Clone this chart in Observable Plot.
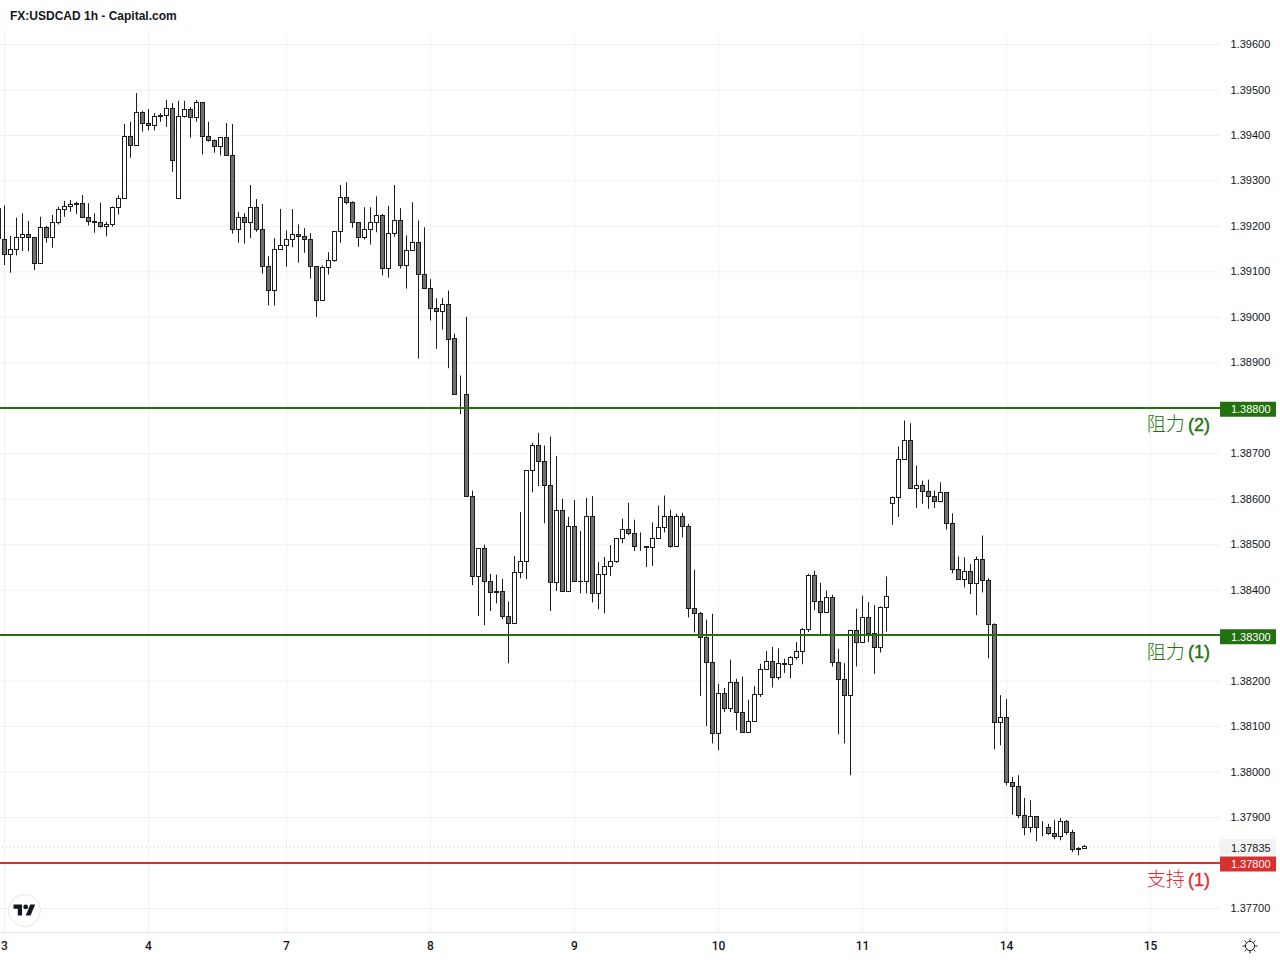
<!DOCTYPE html>
<html><head><meta charset="utf-8">
<script src="https://cdn.jsdelivr.net/npm/d3@7"></script>
<script src="https://cdn.jsdelivr.net/npm/@observablehq/plot@0.6"></script>
<style>
html,body{margin:0;padding:0;background:#fff;}
#wrap{position:relative;width:1280px;height:960px;overflow:hidden;}
#title{height:31px;box-sizing:border-box;padding:9px 0 0 10px;font:bold 12px/15px "Liberation Sans",Arial,sans-serif;color:#131722;}
#logo{position:absolute;left:8px;top:894px;}
#gear{position:absolute;left:1241px;top:937px;}
</style></head><body>
<div id="wrap">
<div id="title">FX:USDCAD 1h - Capital.com</div>
<div id="chart"></div>
<svg id="logo" width="33" height="33" viewBox="0 0 33 33"><circle cx="16.5" cy="16.5" r="16" fill="#fff" stroke="#e6e6e6"/><g transform="translate(5.5,8) scale(0.61)"><path fill="#131722" d="M14 22H7V11H0V4h14v18zM28 22h-8l7.5-18h8L28 22z"/><circle cx="20" cy="8" r="4" fill="#131722"/></g></svg>
<svg id="gear" width="18" height="18" viewBox="0 0 18 18" fill="none" stroke="#131722" stroke-width="1"><circle cx="9" cy="9" r="4.6"/><path d="M9 1.5v2.4M9 14.1v2.4M1.5 9h2.4M14.1 9h2.4M3.7 3.7l1.7 1.7M12.6 12.6l1.7 1.7M3.7 14.3l1.7-1.7M12.6 5.4l1.7-1.7"/></svg>
</div>
<script>
const opens=[1.39171,1.39138,1.39149,1.39175,1.39182,1.39175,1.39118,1.39197,1.39175,1.39208,
1.39237,1.39243,1.39250,1.39250,1.39219,1.39210,1.39208,1.39199,1.39204,1.39241,
1.39261,1.39397,1.39377,1.39450,1.39426,1.39421,1.39443,1.39443,1.39459,1.39261,
1.39441,1.39456,1.39439,1.39472,1.39397,1.39388,1.39375,1.39395,1.39355,1.39193,
1.39219,1.39208,1.39241,1.39192,1.39111,1.39058,1.39148,1.39157,1.39170,1.39181,
1.39177,1.39170,1.39111,1.39036,1.39109,1.39124,1.39188,1.39263,1.39252,1.39208,
1.39175,1.39192,1.39208,1.39223,1.39107,1.39184,1.39212,1.39113,1.39146,1.39164,
1.39094,1.39063,1.39019,1.39012,1.39028,1.38952,1.38830,1.38830,1.38604,1.38428,
1.38490,1.38417,1.38395,1.38395,1.38342,1.38325,1.38437,1.38463,1.38661,1.38716,
1.38681,1.38630,1.38415,1.38575,1.38397,1.38540,1.38419,1.38417,1.38562,1.38391,
1.38433,1.38450,1.38463,1.38512,1.38532,1.38523,1.38494,1.38494,1.38492,1.38512,
1.38536,1.38560,1.38494,1.38562,1.38540,1.38358,1.38347,1.38294,1.38239,1.38083,
1.38171,1.38138,1.38195,1.38131,1.38087,1.38111,1.38169,1.38224,1.38241,1.38206,
1.38237,1.38235,1.38250,1.38263,1.38312,1.38431,1.38373,1.38349,1.38382,1.38239,
1.38202,1.38167,1.38310,1.38283,1.38338,1.38303,1.38273,1.38361,1.38590,1.38603,
1.38686,1.38728,1.38623,1.38629,1.38616,1.38605,1.38594,1.38614,1.38546,1.38445,
1.38423,1.38440,1.38414,1.38467,1.38420,1.38324,1.38108,1.38120,1.37975,1.37968,
1.37904,1.37876,1.37902,1.37878,1.37878,1.37863,1.37858,1.37891,1.37865,1.37830,
1.37830];
const closes=[1.39138,1.39149,1.39175,1.39182,1.39175,1.39118,1.39197,1.39175,1.39208,1.39237,
1.39243,1.39248,1.39248,1.39219,1.39210,1.39208,1.39199,1.39204,1.39241,1.39261,
1.39397,1.39377,1.39450,1.39426,1.39421,1.39441,1.39441,1.39459,1.39344,1.39441,
1.39456,1.39439,1.39472,1.39397,1.39388,1.39375,1.39395,1.39355,1.39193,1.39219,
1.39208,1.39241,1.39192,1.39111,1.39058,1.39148,1.39157,1.39170,1.39181,1.39177,
1.39170,1.39111,1.39036,1.39109,1.39124,1.39188,1.39263,1.39252,1.39208,1.39175,
1.39192,1.39208,1.39223,1.39107,1.39184,1.39212,1.39113,1.39146,1.39164,1.39094,
1.39063,1.39019,1.39012,1.39028,1.38951,1.38830,1.38830,1.38604,1.38428,1.38490,
1.38417,1.38393,1.38393,1.38342,1.38325,1.38437,1.38463,1.38661,1.38716,1.38681,
1.38630,1.38415,1.38575,1.38397,1.38540,1.38419,1.38417,1.38562,1.38391,1.38433,
1.38450,1.38463,1.38512,1.38532,1.38523,1.38494,1.38494,1.38492,1.38512,1.38536,
1.38560,1.38494,1.38562,1.38540,1.38358,1.38347,1.38294,1.38239,1.38083,1.38171,
1.38138,1.38195,1.38131,1.38087,1.38111,1.38169,1.38224,1.38241,1.38206,1.38237,
1.38235,1.38250,1.38263,1.38312,1.38431,1.38373,1.38349,1.38382,1.38239,1.38202,
1.38167,1.38310,1.38283,1.38338,1.38303,1.38273,1.38361,1.38385,1.38603,1.38686,
1.38728,1.38623,1.38629,1.38616,1.38605,1.38594,1.38614,1.38546,1.38445,1.38423,
1.38440,1.38414,1.38467,1.38420,1.38324,1.38108,1.38120,1.37975,1.37968,1.37904,
1.37876,1.37902,1.37878,1.37878,1.37863,1.37858,1.37891,1.37865,1.37828,1.37828,
1.37835];
const highs=[1.39245,1.39178,1.39218,1.39228,1.39211,1.39175,1.39220,1.39200,1.39224,1.39242,
1.39255,1.39257,1.39253,1.39268,1.39250,1.39228,1.39251,1.39209,1.39243,1.39267,
1.39424,1.39429,1.39492,1.39453,1.39457,1.39448,1.39448,1.39477,1.39470,1.39475,
1.39475,1.39461,1.39477,1.39472,1.39429,1.39390,1.39395,1.39426,1.39424,1.39231,
1.39228,1.39290,1.39259,1.39248,1.39133,1.39173,1.39237,1.39190,1.39237,1.39203,
1.39195,1.39184,1.39111,1.39113,1.39142,1.39188,1.39290,1.39296,1.39254,1.39208,
1.39241,1.39241,1.39265,1.39226,1.39244,1.39290,1.39239,1.39179,1.39252,1.39212,
1.39197,1.39083,1.39041,1.39041,1.39058,1.38963,1.38871,1.39000,1.38618,1.38490,
1.38499,1.38435,1.38433,1.38424,1.38374,1.38474,1.38571,1.38663,1.38723,1.38745,
1.38717,1.38737,1.38694,1.38600,1.38560,1.38597,1.38529,1.38602,1.38606,1.38461,
1.38472,1.38498,1.38514,1.38556,1.38591,1.38554,1.38526,1.38494,1.38548,1.38585,
1.38607,1.38576,1.38567,1.38569,1.38545,1.38444,1.38351,1.38334,1.38347,1.38193,
1.38184,1.38246,1.38204,1.38209,1.38158,1.38188,1.38237,1.38265,1.38274,1.38271,
1.38248,1.38254,1.38285,1.38316,1.38435,1.38442,1.38415,1.38398,1.38389,1.38270,
1.38238,1.38312,1.38358,1.38387,1.38373,1.38366,1.38363,1.38429,1.38605,1.38715,
1.38772,1.38766,1.38673,1.38640,1.38642,1.38618,1.38636,1.38614,1.38568,1.38473,
1.38471,1.38456,1.38473,1.38519,1.38425,1.38326,1.38168,1.38160,1.37988,1.37992,
1.37942,1.37937,1.37902,1.37891,1.37885,1.37894,1.37898,1.37894,1.37872,1.37834,
1.37839];
const lows=[1.39114,1.39097,1.39135,1.39145,1.39144,1.39103,1.39118,1.39163,1.39152,1.39203,
1.39220,1.39231,1.39226,1.39217,1.39201,1.39185,1.39196,1.39177,1.39198,1.39225,
1.39259,1.39350,1.39377,1.39407,1.39410,1.39410,1.39429,1.39418,1.39319,1.39261,
1.39438,1.39394,1.39429,1.39357,1.39385,1.39361,1.39355,1.39355,1.39183,1.39163,
1.39161,1.39173,1.39187,1.39095,1.39025,1.39025,1.39148,1.39110,1.39153,1.39119,
1.39141,1.39084,1.39000,1.39036,1.39093,1.39121,1.39163,1.39247,1.39196,1.39154,
1.39170,1.39159,1.39186,1.39091,1.39086,1.39176,1.39106,1.39062,1.39146,1.38908,
1.39061,1.38992,1.38930,1.38972,1.38887,1.38828,1.38786,1.38604,1.38410,1.38342,
1.38322,1.38353,1.38370,1.38335,1.38238,1.38325,1.38425,1.38423,1.38614,1.38628,
1.38546,1.38353,1.38397,1.38397,1.38397,1.38419,1.38392,1.38392,1.38372,1.38357,
1.38348,1.38430,1.38459,1.38502,1.38520,1.38485,1.38485,1.38450,1.38452,1.38512,
1.38526,1.38492,1.38494,1.38515,1.38339,1.38306,1.38166,1.38100,1.38062,1.38047,
1.38131,1.38131,1.38091,1.38087,1.38087,1.38111,1.38164,1.38224,1.38185,1.38202,
1.38217,1.38205,1.38246,1.38236,1.38307,1.38355,1.38302,1.38349,1.38231,1.38082,
1.38062,1.37992,1.38231,1.38283,1.38285,1.38215,1.38262,1.38308,1.38543,1.38560,
1.38686,1.38623,1.38580,1.38589,1.38578,1.38580,1.38592,1.38532,1.38436,1.38423,
1.38405,1.38390,1.38344,1.38394,1.38249,1.38049,1.38058,1.37970,1.37905,1.37898,
1.37860,1.37866,1.37847,1.37858,1.37861,1.37851,1.37849,1.37861,1.37823,1.37816,
1.37830];
const dayBars=[0,24,47,71,95,119,143,167,191];
const dayLabels=["3","4","7","8","9","10","11","14","15"];
const priceTicks=[1.377,1.378,1.379,1.38,1.381,1.382,1.383,1.384,1.385,1.386,1.387,1.388,1.389,1.39,1.391,1.392,1.393,1.394,1.395,1.396];
const levelPrices=[1.388,1.383,1.378];
const levelNames=["阻力","阻力","支持"];
const levelNums=["(2)","(1)","(1)"];
const GREEN="#22700f", RED="#d9302f", INK="#1c1c1c", DOWN="#707070", GRID="#f1f1f3";
const levelColors=[GREEN,GREEN,RED];
const lastPrice=1.37835;
const leadWick=[{x:-0.67,low:1.39171,high:1.39239}];

const candles=opens.map((o,i)=>({i,o,c:closes[i],h:highs[i],l:lows[i],up:closes[i]>o}));
const levels=levelPrices.map((p,k)=>({p,name:levelNames[k],num:levelNums[k],color:levelColors[k]}));
const fmt=d3.format(".5f");
// x unit = one hourly bar: pane edge, label gutter edge and right edge expressed in bars
const barPaneEnd=202.67, barTagEnd=212, barEnd=212.67, barTagText=204.4, barNum=200.9, barNameEnd=196.7;
const floorPrice=1.37647;

const chart=Plot.plot({
  width:1280,height:929,marginTop:0,marginLeft:0,marginRight:60,marginBottom:28,
  style:{fontFamily:'"Liberation Sans",Arial,sans-serif',fontSize:"11px",color:"#131722",background:"#fff"},
  x:{domain:[0,191],range:[4,1150],axis:null},
  y:{domain:[1.377,1.396],range:[877,13],axis:null},
  marks:[
    Plot.gridX(dayBars,{stroke:GRID,strokeOpacity:1}),
    Plot.gridY(priceTicks,{stroke:GRID,strokeOpacity:1}),
    Plot.ruleY([floorPrice],{x1:-1,x2:barEnd,stroke:"#e0e3eb"}),
    Plot.ruleY([lastPrice],{x1:-1,x2:barPaneEnd,stroke:"#cfcfcf",strokeDasharray:"1,3"}),
    Plot.ruleX(leadWick,{x:"x",y1:"low",y2:"high",stroke:INK,clip:"frame"}),
    Plot.ruleX(candles,{x:"i",y1:"l",y2:"h",stroke:INK,strokeWidth:1}),
    Plot.rect(candles,{x1:d=>d.i-1/3,x2:d=>d.i+1/3,y1:"o",y2:"c",
      fill:d=>d.up?"#fff":DOWN,stroke:INK,strokeWidth:1,shapeRendering:"crispEdges"}),
    Plot.ruleY(levels,{y:"p",x1:-1,x2:barPaneEnd,stroke:"color",strokeWidth:2,dy:-0.5,shapeRendering:"crispEdges"}),
    Plot.axisY(priceTicks,{anchor:"right",tickSize:0,tickPadding:10,tickFormat:fmt,label:null,fontSize:11,fill:"#131722"}),
    Plot.axisX(dayBars,{anchor:"bottom",tickSize:0,tickPadding:9,tickFormat:d=>dayLabels[dayBars.indexOf(d)],label:null,fontFamily:"Roboto",fontSize:12,fontWeight:500,fill:"#131722"}),
    Plot.ruleY([lastPrice],{x1:barPaneEnd,x2:barTagEnd,stroke:"#f3f3f3",strokeWidth:16}),
    Plot.text([lastPrice],{x:barTagText,y:d=>d,dy:1,text:fmt,textAnchor:"start",fontSize:11,fill:"#131722"}),
    Plot.ruleY(levels,{y:"p",x1:barPaneEnd,x2:barTagEnd,stroke:"color",strokeWidth:15,dy:1}),
    Plot.text(levels,{x:barTagText,y:"p",dy:1.5,text:d=>fmt(d.p),textAnchor:"start",fontSize:11,fill:"#fff"}),
    Plot.text(levels,{x:barNameEnd,y:"p",dy:17,text:"name",textAnchor:"end",fill:"color",fontSize:19,fontFamily:'"Noto Sans CJK SC"',fontWeight:300}),
    Plot.text(levels,{x:barNum,y:"p",dy:17,text:"num",textAnchor:"end",fill:"color",stroke:"color",strokeWidth:0.4,fontSize:18,fontFamily:'"Liberation Sans"'})
  ]
});
document.getElementById("chart").appendChild(chart);
</script>
</body></html>
